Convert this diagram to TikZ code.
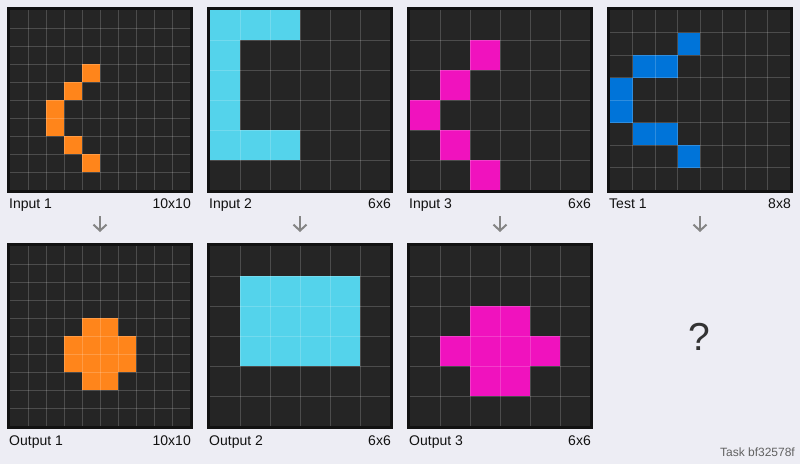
\documentclass[tikz,border=0pt]{standalone}
\usepackage{fontspec}
\setmainfont{Liberation Sans}
\usetikzlibrary{arrows.meta}
\definecolor{bgc}{HTML}{EDEDF4}
\definecolor{cellbg}{HTML}{252525}
\definecolor{framec}{HTML}{121212}
\definecolor{arcorange}{HTML}{FF851B}
\definecolor{arccyan}{HTML}{54D3EB}
\definecolor{arcmagenta}{HTML}{F012BE}
\definecolor{arcblue}{HTML}{0074D9}
\definecolor{labc}{HTML}{111111}
\definecolor{arrc}{HTML}{858585}
\tikzset{
  panelbox/.style={draw=framec, fill=cellbg, line width=3pt, inner sep=0pt,
    minimum width=183pt, minimum height=183pt},
  gridline/.style={draw=white, draw opacity=0.18, line width=1pt},
  lab/.style={font=\fontsize{14}{16}\selectfont, text=labc, inner sep=0pt},
  downarrow/.style={draw=arrc, line width=2pt, -{Straight Barb[length=6pt,width=13pt,line width=2pt]}},
}
% #1 name, #2 X inner left, #3 Y inner top, #4 n, #5 colour, #6 cells r/c
\newcommand\arcpanel[6]{%
  \node[panelbox] (#1) at ({#2+90},{#3+90}) {};
  \pgfmathsetmacro\cs{180/#4}%
  \foreach \r/\c in {#6} {
    \fill[#5] ({#2+\c*\cs},{#3+\r*\cs}) rectangle ++(\cs,\cs);
  }
  \pgfmathtruncatemacro\nm{#4-1}%
  \foreach \i in {1,...,\nm} {
    \draw[gridline] ({#2+\i*\cs},#3) -- ++(0,180);
    \draw[gridline] (#2,{#3+\i*\cs}) -- ++(180,0);
  }
}
\begin{document}
\begin{tikzpicture}[x=1pt,y=-1pt]
\fill[bgc] (0,0) rectangle (800,464);
\useasboundingbox (0,0) rectangle (800,464);

% top row
\arcpanel{in1}{10}{10}{10}{arcorange}{3/4,4/3,5/2,6/2,7/3,8/4}
\arcpanel{in2}{210}{10}{6}{arccyan}{0/0,0/1,0/2,1/0,2/0,3/0,4/0,4/1,4/2}
\arcpanel{in3}{410}{10}{6}{arcmagenta}{1/2,2/1,3/0,4/1,5/2}
\arcpanel{te1}{610}{10}{8}{arcblue}{1/3,2/1,2/2,3/0,4/0,5/1,5/2,6/3}
% bottom row
\arcpanel{out1}{10}{246}{10}{arcorange}{4/4,4/5,5/3,5/4,5/5,5/6,6/3,6/4,6/5,6/6,7/4,7/5}
\arcpanel{out2}{210}{246}{6}{arccyan}{1/1,1/2,1/3,1/4,2/1,2/2,2/3,2/4,3/1,3/2,3/3,3/4}
\arcpanel{out3}{410}{246}{6}{arcmagenta}{2/2,2/3,3/1,3/2,3/3,3/4,4/2,4/3}

% labels
\node[lab, anchor=base west] (lin1) at (9,208) {Input 1};
\node[lab, anchor=base east] (sin1) at (191,208) {10x10};
\node[lab, anchor=base west] (lin2) at (209,208) {Input 2};
\node[lab, anchor=base east] (sin2) at (391,208) {6x6};
\node[lab, anchor=base west] (lin3) at (409,208) {Input 3};
\node[lab, anchor=base east] (sin3) at (591,208) {6x6};
\node[lab, anchor=base west] (lte1) at (609,208) {Test 1};
\node[lab, anchor=base east] (ste1) at (791,208) {8x8};

\node[lab, anchor=base west] (lout1) at (9,445) {Output 1};
\node[lab, anchor=base east] (sout1) at (191,445) {10x10};
\node[lab, anchor=base west] (lout2) at (209,445) {Output 2};
\node[lab, anchor=base east] (sout2) at (391,445) {6x6};
\node[lab, anchor=base west] (lout3) at (409,445) {Output 3};
\node[lab, anchor=base east] (sout3) at (591,445) {6x6};

% arrows
\foreach \k in {0,1,2,3} {
  \coordinate (a\k) at ({100+200*\k},216);
  \coordinate (b\k) at ({100+200*\k},232);
  \draw[downarrow] (a\k) -- (b\k);
}

% question mark
\node[inner sep=0pt, anchor=base, text=black!80, font=\fontsize{39}{40}\selectfont] (qm) at (699,350) {?};

% task id
\node[inner sep=0pt, anchor=base east, text=black!62, font=\fontsize{12}{14}\selectfont] (task) at (795,456) {Task bf32578f};
\end{tikzpicture}
\end{document}
